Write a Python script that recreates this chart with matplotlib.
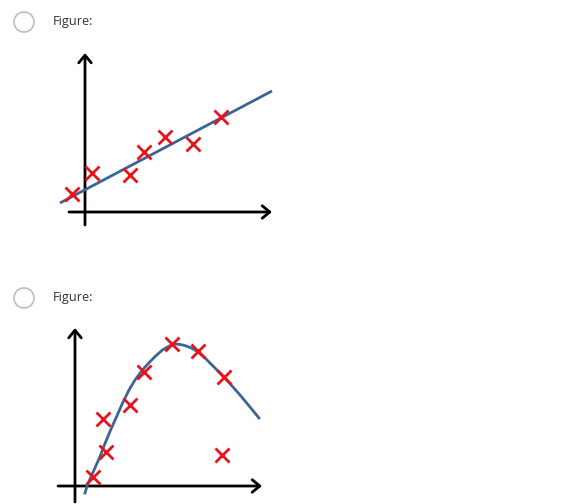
import matplotlib
matplotlib.use("Agg")
import matplotlib.pyplot as plt
from matplotlib.patches import Circle

# ---- data ----
option_labels = ["Figure:", "Figure:"]

# plot 1: linear fit
lin_x = [-0.65, 0.35, 2.25, 2.95, 4.0, 5.4, 6.8]
lin_y = [0.9, 1.95, 1.85, 3.0, 3.75, 3.4, 4.75]
lin_fit_x = [-1.25, 9.35]
lin_fit_y = [0.45, 6.05]

# plot 2: curved fit
cur_x = [0.9, 1.55, 1.4, 2.75, 3.45, 4.85, 6.15, 7.45, 7.35]
cur_y = [0.45, 1.7, 3.35, 4.05, 5.7, 7.1, 6.75, 5.45, 1.55]
cur_fit_x = [0.5, 0.62, 0.95, 1.25, 1.5, 1.78, 2.08, 2.37, 2.7, 3.0, 3.37, 3.67,
             4.0, 4.37, 4.75, 5.0, 5.25, 5.5, 5.75, 6.0, 6.25, 6.5, 6.75, 7.25,
             7.75, 8.25, 8.75, 9.2]
cur_fit_y = [-0.35, 0.05, 0.8, 1.47, 2.13, 2.8, 3.47, 4.13, 4.8, 5.3, 5.8, 6.13,
             6.47, 6.8, 7.02, 7.1, 7.08, 7.02, 6.93, 6.8, 6.62, 6.4, 6.15, 5.65,
             5.12, 4.55, 3.95, 3.4]

W, H = 568, 504
fig = plt.figure(figsize=(W / 100, H / 100), dpi=100)
fig.patch.set_facecolor("white")

# overlay for radio buttons & labels (pixel coordinates)
ov = fig.add_axes([0, 0, 1, 1])
ov.set_xlim(0, W)
ov.set_ylim(H, 0)
ov.axis("off")
for cy, lab in zip([22, 298], option_labels):
    ov.add_patch(Circle((24, cy), 10, facecolor="white", edgecolor="#bdbdbd", lw=1.2))
    ov.text(53, cy, lab, fontsize=9.2, family="Open Sans", color="#333333",
            va="center", ha="left")

line_col = "#3b6594"
mark_col = "#e8141c"


def draw_axes_arrows(ax, x0, x1, y0, y1):
    kw = dict(arrowstyle="->,head_length=0.55,head_width=0.45", lw=2.0,
              color="black", shrinkA=0, shrinkB=0, mutation_scale=10)
    ax.annotate("", xy=(x1, 0), xytext=(x0, 0), arrowprops=kw)
    ax.annotate("", xy=(0, y1), xytext=(0, y0), arrowprops=kw)


# plot 1
ax1 = fig.add_axes([50 / W, (H - 235) / H, 240 / W, 195 / H])
ax1.set_xlim(-1.75, 10.25)
ax1.set_ylim(-1.15, 8.6)
ax1.axis("off")
draw_axes_arrows(ax1, -0.8, 9.35, -0.65, 7.95)
ax1.plot(lin_fit_x, lin_fit_y, color=line_col, lw=2.0, solid_capstyle="butt", zorder=3)
ax1.plot(lin_x, lin_y, "x", color=mark_col, ms=10.5, mew=2.0, zorder=4)

# plot 2
ax2 = fig.add_axes([50 / W, 0, 240 / W, 189 / H])
ax2.set_xlim(-1.25, 10.75)
ax2.set_ylim(-0.9, 8.55)
ax2.axis("off")
draw_axes_arrows(ax2, -0.85, 9.35, -0.8, 7.9)
ax2.plot(cur_fit_x, cur_fit_y, color=line_col, lw=2.0, solid_joinstyle="round", zorder=3)
ax2.plot(cur_x, cur_y, "x", color=mark_col, ms=10.5, mew=2.0, zorder=4)

fig.savefig("out.png", dpi=100, facecolor="white")
